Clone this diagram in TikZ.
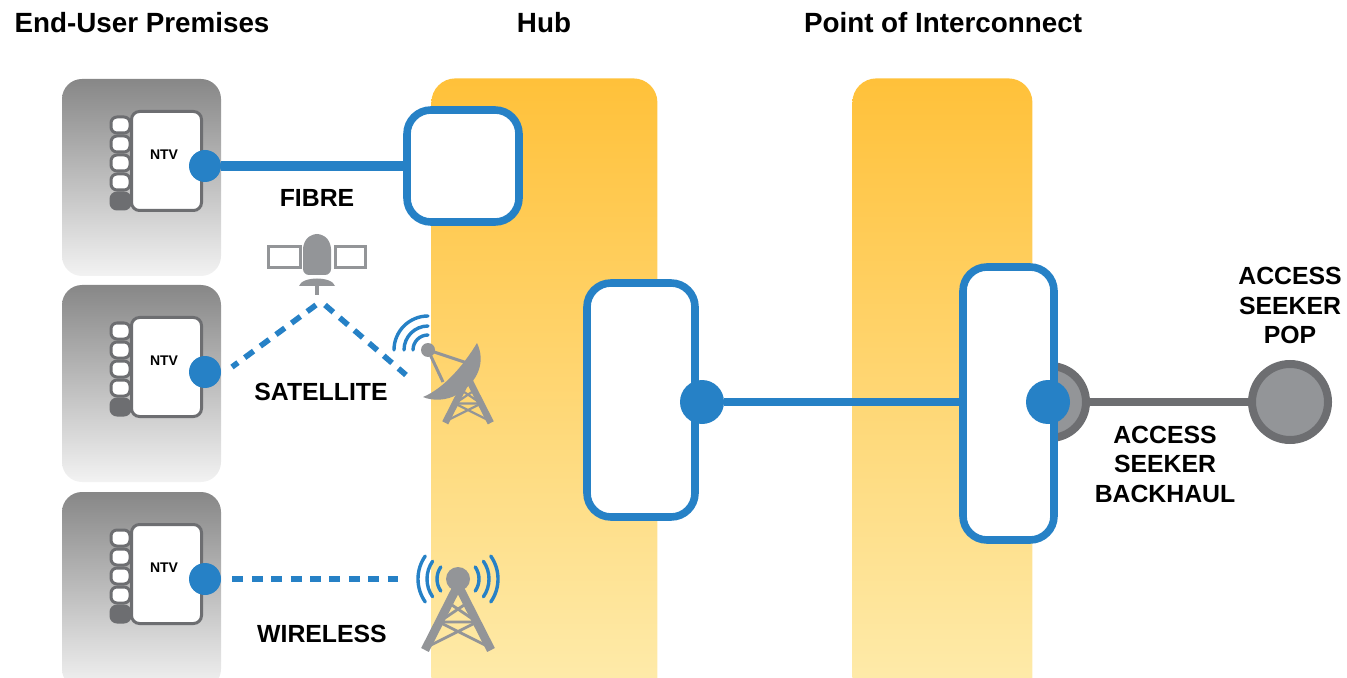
\documentclass[tikz,border=0pt]{standalone}
\usepackage{fontspec}
\setmainfont{Liberation Sans}
\usepackage{xcolor}
\usepackage{tikz}
\usetikzlibrary{shapes, arrows, positioning}
\definecolor{linkblue}{HTML}{2681C6}
\definecolor{icongray}{HTML}{939598}
\definecolor{edgegray}{HTML}{6D6E71}
\definecolor{bandtop}{HTML}{FFC13A}
\definecolor{bandbottom}{HTML}{FEEDB0}
\tikzset{
  premisesnode/.style={rounded corners=10pt, minimum width=79.5pt, minimum height=98.5pt, inner sep=0pt, top color=black!47, bottom color=black!5},
  bandnode/.style={anchor=north west, rounded corners=12pt, minimum height=320pt, inner sep=0pt, top color=bandtop, bottom color=bandbottom},
  hubnode/.style={draw=linkblue, line width=3.8pt, rounded corners=12pt, fill=white, inner sep=0pt},
  ntvnode/.style={draw=edgegray, line width=1.5pt, rounded corners=4pt, fill=white, minimum width=35pt, minimum height=49.5pt, inner sep=0pt},
  slotnode/.style={draw=edgegray, line width=1.5pt, rounded corners=3pt, fill=white, minimum width=9.5pt, minimum height=8pt, inner sep=0pt},
  darkslotnode/.style={slotnode, fill=edgegray},
  portnode/.style={circle, fill=linkblue, inner sep=0pt, minimum size=16pt},
  bigportnode/.style={circle, fill=linkblue, inner sep=0pt, minimum size=22pt},
  popnode/.style={circle, draw=edgegray, fill=icongray, line width=4pt, inner sep=0pt, minimum size=38pt},
  headnode/.style={font=\bfseries\fontsize{13.9}{16}\selectfont, inner sep=0pt},
  labelnode/.style={font=\bfseries\fontsize{12.4}{14.75}\selectfont, align=center, inner sep=0pt},
  ntvlabel/.style={font=\bfseries\fontsize{7}{8}\selectfont, inner sep=0pt},
  solidlink/.style={draw=linkblue, line width=4pt},
  dashedlink/.style={draw=linkblue, line width=2.8pt, dash pattern=on 5.5pt off 4.2pt},
  backhaul/.style={draw=edgegray, line width=4pt},
  wave/.style={draw=linkblue, line width=1.7pt, line cap=round},
  iconline/.style={draw=icongray, line width=1.5pt},
  ntvunit/.pic={
    \node[premisesnode] (-panel) at (79.5,98.5) {};
    \node[ntvnode] (-box) at (104.5,82) {};
    \foreach \sloty in {46,65,84,103} \node[slotnode] (-slot\sloty) at (58.5,\sloty) {};
    \node[darkslotnode] (-slotdark) at (58.5,122) {};
    \node[ntvlabel] (-name) at (102,76) {NTV};
    \node[portnode] (-port) at (143,87) {};
  },
  radiotower/.pic={
    \draw[draw=icongray, line width=1.4\pgflinewidth, line join=round] (-33,65) -- (0,0) -- (33,65);
    \draw[draw=icongray, line width=.8\pgflinewidth] (-9,18) -- (19,37) (9,18) -- (-19,37) (-19,37) -- (19,37);
    \draw[draw=icongray, line width=.8\pgflinewidth] (-19,37) -- (31,62) (19,37) -- (-31,62);
  }
}

\begin{document}
\begin{tikzpicture}[x=0.5pt, y=-0.5pt]
\useasboundingbox (0,0) rectangle (1347,678);
\clip (0,0) rectangle (1347,678);

% Bands
\node[bandnode, minimum width=113pt] (hubband) at (431,78) {};
\node[bandnode, minimum width=90pt] (poiband) at (852,78) {};

% Headings
\node[headnode] (premiseshead) at (142,23) {End-User Premises};
\node[headnode] (hubhead) at (544,23) {Hub};
\node[headnode] (poihead) at (943,23) {Point of Interconnect};

% End-user units
\pic (fibreunit) at (62,79) {ntvunit};
\pic (satunit) at (62,285) {ntvunit};
\pic (wirelessunit) at (62,492) {ntvunit};

% Hub and interconnect
\node[hubnode, minimum width=56pt, minimum height=56pt] (fibrehub) at (463,166) {};
\node[hubnode, minimum width=54pt, minimum height=117pt] (mainhub) at (641,400) {};
\node[popnode, minimum size=36pt] (poigray) at (1050,402) {};
\node[popnode] (pop) at (1290,402) {};
\draw[backhaul] (poigray) -- (pop);
\node[hubnode, minimum width=45.5pt, minimum height=136.5pt] (poibox) at (1008.5,403.5) {};
\node[bigportnode] (hubport) at (702,402) {};
\node[bigportnode] (poiport) at (1048,402) {};

% Satellite
\draw[iconline] (268,247) rectangle (300,268);
\draw[iconline] (335,247) rectangle (365,268);
\fill[icongray, rounded corners=3pt] (303,275) -- (303,243) -- (311,234) -- (323,234) -- (331,243) -- (331,275) -- cycle;
\fill[icongray] (299,286) .. controls (302,276) and (332,276) .. (335,286) -- cycle;
\draw[icongray, line width=2pt] (317,286) -- (317,295);

% Dish
\pic[scale=.69, line width=1.7pt] (dishtower) at (468,378) {radiotower};
\draw[icongray, line width=1.5pt] (428,350) -- (470,364) (428,350) -- (443,382);
\fill[icongray] (423,397) .. controls (445,388) and (465,363) .. (477,343) .. controls (486,362) and (478,382) .. (458,394) .. controls (447,401) and (432,401) .. (423,397) -- cycle;
\fill[icongray] (428,350) circle (7);
\foreach \waver in {15,24,34} \draw[wave] (428,350) ++(-90:\waver) arc (-90:-180:\waver);

% Wireless tower
\pic[line width=2.2pt] (wirelesstower) at (458,585) {radiotower};
\fill[icongray] (458,579) circle (12);
\foreach \waver in {21,31,40} {
  \draw[wave] (458,579) ++(35:\waver) arc (35:-35:\waver);
  \draw[wave] (458,579) ++(145:\waver) arc (145:215:\waver);
}

% Edges
\coordinate (satstart) at (232,367);
\coordinate (satbeam) at (316,305);
\coordinate (satbeamb) at (325,305);
\coordinate (dishend) at (406,375);
\coordinate (wirelessend) at (398,579);
\draw[solidlink, line width=4.8pt] (fibreunit-port) -- (fibrehub);
\draw[solidlink] (hubport) -- (hubport -| poibox.west);
\draw[dashedlink] (satbeam) -- (satstart);
\draw[dashedlink] (satbeamb) -- (dishend);
\draw[dashedlink, shorten <=5.5pt] (wirelessunit-port) -- (wirelessend);

% Labels
\node[labelnode] (fibrelabel) at (317,198) {FIBRE};
\node[labelnode] (satlabel) at (321,392) {SATELLITE};
\node[labelnode] (wirelesslabel) at (322,634) {WIRELESS};
\node[labelnode] (poplabel) at (1290,305.5) {ACCESS\\SEEKER\\POP};
\node[labelnode] (backhaullabel) at (1165,464) {ACCESS\\SEEKER\\BACKHAUL};

\end{tikzpicture}
\end{document}
